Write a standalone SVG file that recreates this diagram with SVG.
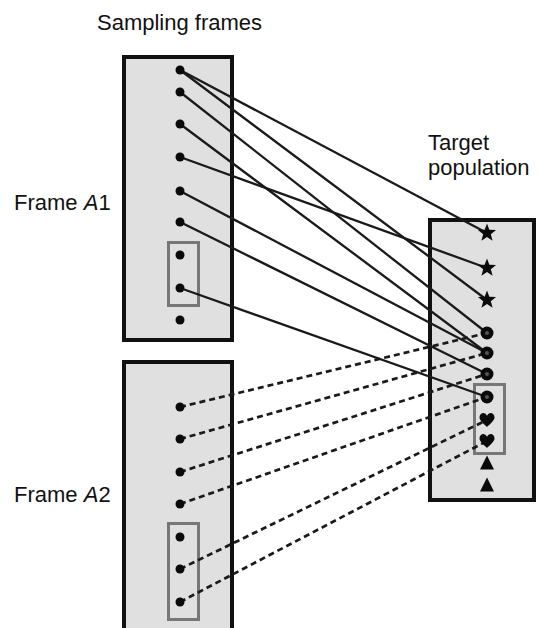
<svg xmlns="http://www.w3.org/2000/svg" width="537" height="628" viewBox="0 0 537 628">
<style>
.lbl{font-family:"Liberation Sans",Arial,sans-serif;font-size:22px;fill:#111}
.frame{fill:#e0e0e0;stroke:#111;stroke-width:4}
.inner{fill:none;stroke:#777;stroke-width:3}
.solid{stroke:#1a1a1a;stroke-width:2.3;fill:none}
.dash{stroke:#1a1a1a;stroke-width:2.7;fill:none;stroke-dasharray:6 4}
.dot{fill:#0a0a0a}
</style>
<defs>
<polygon id="star" points="0,-9.5 2.35,-3.24 9.03,-2.94 3.81,1.24 5.58,7.69 0,4 -5.58,7.69 -3.81,1.24 -9.03,-2.94 -2.35,-3.24" fill="#0a0a0a"/>
<g id="ring"><circle r="6.5" fill="#0a0a0a"/><circle r="2" fill="#555"/></g>
<path id="heart" d="M0,7 C-3,4 -7.5,0.5 -7.5,-2.5 C-7.5,-6.5 -4,-8 -2,-6.5 C-1,-5.8 0,-4.5 0,-4 C0,-4.5 1,-5.8 2,-6.5 C4,-8 7.5,-6.5 7.5,-2.5 C7.5,0.5 3,4 0,7Z" fill="#0a0a0a"/>
<path id="tri" d="M0,-7.5 L7,6.5 L-7,6.5Z" fill="#0a0a0a"/>
</defs>
<rect width="537" height="628" fill="#fff"/>
<text class="lbl" x="97" y="30">Sampling frames</text>
<text class="lbl" x="428" y="150">Target</text>
<text class="lbl" x="428" y="175">population</text>
<g id="frameA1">
<rect class="frame" x="124" y="57" width="108" height="283"/>
<rect class="inner" x="168.5" y="242.5" width="30" height="63"/>
<text class="lbl" x="14" y="210">Frame <tspan font-style="italic">A</tspan>1</text>
</g>
<g id="frameA2">
<rect class="frame" x="124" y="362" width="108" height="290"/>
<rect class="inner" x="168.5" y="523.5" width="30" height="96"/>
<text class="lbl" x="14" y="502">Frame <tspan font-style="italic">A</tspan>2</text>
</g>
<g id="target">
<rect class="frame" x="430" y="220" width="104" height="280"/>
<rect class="inner" x="474.5" y="384.5" width="30" height="69"/>
</g>
<g id="connectors">
<line class="solid" x1="180" y1="70" x2="487" y2="233"/>
<line class="solid" x1="180" y1="70" x2="487" y2="300"/>
<line class="solid" x1="180" y1="92" x2="487" y2="333"/>
<line class="solid" x1="180" y1="124" x2="487" y2="353"/>
<line class="solid" x1="180" y1="157" x2="487" y2="268"/>
<line class="solid" x1="180" y1="191" x2="487" y2="353"/>
<line class="solid" x1="180" y1="222" x2="487" y2="374"/>
<line class="solid" x1="180" y1="288" x2="487" y2="397"/>
<line class="dash" x1="180" y1="407" x2="487" y2="333"/>
<line class="dash" x1="180" y1="439" x2="487" y2="353"/>
<line class="dash" x1="180" y1="472" x2="487" y2="374"/>
<line class="dash" x1="180" y1="504" x2="487" y2="397"/>
<line class="dash" x1="180" y1="569" x2="487" y2="420"/>
<line class="dash" x1="180" y1="602" x2="487" y2="441"/>
</g>
<g id="dotsA1">
<circle class="dot" cx="180" cy="70" r="4.5"/>
<circle class="dot" cx="180" cy="92" r="4.5"/>
<circle class="dot" cx="180" cy="124" r="4.5"/>
<circle class="dot" cx="180" cy="157" r="4.5"/>
<circle class="dot" cx="180" cy="191" r="4.5"/>
<circle class="dot" cx="180" cy="222" r="4.5"/>
<circle class="dot" cx="180" cy="255" r="4.5"/>
<circle class="dot" cx="180" cy="288" r="4.5"/>
<circle class="dot" cx="180" cy="320" r="4.5"/>
</g>
<g id="dotsA2">
<circle class="dot" cx="180" cy="407" r="4.5"/>
<circle class="dot" cx="180" cy="439" r="4.5"/>
<circle class="dot" cx="180" cy="472" r="4.5"/>
<circle class="dot" cx="180" cy="504" r="4.5"/>
<circle class="dot" cx="180" cy="537" r="4.5"/>
<circle class="dot" cx="180" cy="569" r="4.5"/>
<circle class="dot" cx="180" cy="602" r="4.5"/>
</g>
<g id="population">
<use href="#star" x="487" y="233"/>
<use href="#star" x="487" y="268"/>
<use href="#star" x="487" y="300"/>
<use href="#ring" x="487" y="333"/>
<use href="#ring" x="487" y="353"/>
<use href="#ring" x="487" y="374"/>
<use href="#ring" x="487" y="397"/>
<use href="#heart" x="487" y="420"/>
<use href="#heart" x="487" y="441"/>
<use href="#tri" x="487" y="463"/>
<use href="#tri" x="487" y="485"/>
</g>
</svg>
